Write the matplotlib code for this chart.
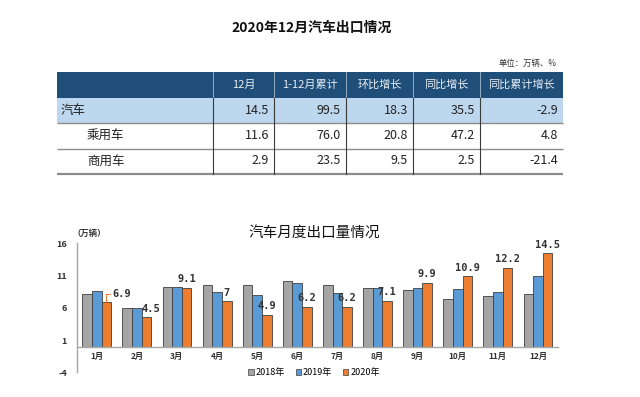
import matplotlib
matplotlib.use('Agg')
import matplotlib.pyplot as plt
from matplotlib.patches import Rectangle, Patch
import numpy as np

plt.rcParams['font.family'] = ['Noto Sans CJK SC', 'DejaVu Sans']

# ---------------- data ----------------
table_title = '2020年12月汽车出口情况'
table_unit = '单位：万辆、%'
table_cols = ['12月', '1-12月累计', '环比增长', '同比增长', '同比累计增长']
table_rows = ['汽车', '乘用车', '商用车']
row_auto = [14.5, 99.5, 18.3, 35.5, -2.9]
row_passenger = [11.6, 76.0, 20.8, 47.2, 4.8]
row_commercial = [2.9, 23.5, 9.5, 2.5, -21.4]

chart_title = '汽车月度出口量情况'
months = ['1月', '2月', '3月', '4月', '5月', '6月', '7月', '8月', '9月', '10月', '11月', '12月']
y2018 = [8.1, 5.9, 9.2, 9.6, 9.5, 10.1, 9.6, 9.0, 8.7, 7.3, 7.9, 8.2]
y2019 = [8.6, 5.9, 9.2, 8.5, 8.0, 9.8, 8.3, 9.0, 9.1, 8.9, 8.5, 10.9]
y2020 = [6.9, 4.5, 9.1, 7.0, 4.9, 6.2, 6.2, 7.1, 9.9, 10.9, 12.2, 14.5]
labels2020 = ['6.9', '4.5', '9.1', '7', '4.9', '6.2', '6.2', '7.1', '9.9', '10.9', '12.2', '14.5']
series_names = ['2018年', '2019年', '2020年']
yticks = [-4, 1, 6, 11, 16]

# ---------------- figure ----------------
W, H = 640, 397
fig = plt.figure(figsize=(W / 100, H / 100), dpi=100)
fig.patch.set_facecolor('white')

# overlay axes in pixel coordinates for the table
ax0 = fig.add_axes([0, 0, 1, 1])
ax0.set_xlim(0, W)
ax0.set_ylim(H, 0)
ax0.axis('off')

ax0.text(312, 28, table_title, ha='center', va='center', fontsize=10,
         fontweight='bold', color='#111111')
ax0.text(557, 63, table_unit, ha='right', va='center', fontsize=6, color='#333333')

left, right = 57, 563
seps = [213, 274, 346, 413, 480]
col_edges = seps + [right]
row_edges = [71.5, 97.5, 123, 148.5, 173.5]
navy = '#1F4E79'
light = '#BDD7EE'

ax0.add_patch(Rectangle((left, row_edges[0]), right - left, row_edges[1] - row_edges[0],
                        facecolor=navy, edgecolor='none'))
ax0.add_patch(Rectangle((left, row_edges[1]), right - left, row_edges[2] - row_edges[1],
                        facecolor=light, edgecolor='none'))

# header text
for j, c in enumerate(table_cols):
    cx = (col_edges[j] + col_edges[j + 1]) / 2
    ax0.text(cx, (row_edges[0] + row_edges[1]) / 2, c, ha='center', va='center',
             fontsize=8, color='#E8EEF5')

rows_vals = [row_auto, row_passenger, row_commercial]
for i, (name, vals) in enumerate(zip(table_rows, rows_vals)):
    cy = (row_edges[i + 1] + row_edges[i + 2]) / 2
    lx = 61 if i == 0 else 87
    ax0.text(lx, cy, name, ha='left', va='center', fontsize=9, color='#222222')
    for j, v in enumerate(vals):
        ax0.text(col_edges[j + 1] - 5, cy, f'{v:.1f}', ha='right', va='center',
                 fontsize=9, color='#222222')

# lines
for k, yv in enumerate(row_edges[2:]):
    ax0.plot([left, right], [yv, yv], color='#8C8C8C', lw=1.6 if k == 2 else 1.0,
             solid_capstyle='butt')
for s in seps:
    ax0.plot([s, s], [row_edges[0], row_edges[1]], color='#A9BCD0', lw=0.6)
    ax0.plot([s, s], [row_edges[1], row_edges[-1]], color='#3A3A3A', lw=0.8)

# ---------------- chart ----------------
ax = fig.add_axes([76.7 / W, 1 - 372.3 / H, (558 - 76.7) / W, (372.3 - 243.3) / H])
ax.set_facecolor('none')
for s in ['top', 'right']:
    ax.spines[s].set_visible(False)
ax.spines['bottom'].set_position(('data', 0))
ax.spines['left'].set_color('#A6A6A6')
ax.spines['left'].set_linewidth(1.0)
ax.spines['bottom'].set_color('#A6A6A6')
ax.spines['bottom'].set_linewidth(1.0)

x = np.arange(len(months))
w = 0.24
colors = ['#A5A5A5', '#5B9BD5', '#ED7D31']
for k, (vals, col) in enumerate(zip([y2018, y2019, y2020], colors)):
    ax.bar(x + (k - 1) * w, vals, width=w, color=col, edgecolor='#3F3F3F', linewidth=0.6,
           zorder=2)

ax.set_xlim(-0.5, len(months) - 0.5)
ax.set_ylim(-4, 16)
ax.set_yticks(yticks)
ax.set_yticklabels([str(t) for t in yticks])
ax.set_xticks(x)
ax.set_xticklabels(months)
ax.tick_params(axis='y', length=0, pad=7, labelsize=6.5, labelcolor='#333333')
ax.tick_params(axis='x', length=0, pad=4, labelsize=6, labelcolor='#333333')
for t in ax.get_xticklabels() + ax.get_yticklabels():
    t.set_fontweight('bold')

for i, (v, lab) in enumerate(zip(y2020, labels2020)):
    if i == 0:
        ax.annotate(lab, xy=(x[i] + w, v), xytext=(4.5, 6), textcoords='offset points',
                    ha='left', va='center', fontsize=7.5, fontweight='bold',
                    family='DejaVu Sans Mono', color='#333333',
                    arrowprops=dict(arrowstyle='-', color='#ED7D31', lw=0.8,
                                    connectionstyle='angle,angleA=0,angleB=90,rad=0',
                                    shrinkA=0, shrinkB=0))
    else:
        dx = 3.5 if i == 1 else 0
        ax.annotate(lab, xy=(x[i] + w, v), xytext=(dx, 2.5), textcoords='offset points',
                    ha='center', va='bottom', fontsize=7.5, fontweight='bold',
                    family='DejaVu Sans Mono', color='#333333')

fig.text(314 / W, 1 - 233 / H, chart_title, ha='center', va='center', fontsize=10.5,
         color='#111111')
fig.text(72 / W, 1 - 233 / H, '（万辆）', ha='left', va='center', fontsize=6,
         fontweight='bold', color='#333333')

handles = [Patch(facecolor=c, edgecolor='#3F3F3F', linewidth=0.5) for c in colors]
fig.legend(handles, series_names, loc='center', bbox_to_anchor=(314 / W, 1 - 372.7 / H),
           ncol=3, frameon=False, fontsize=6.5, handlelength=0.6, handleheight=0.6,
           handletextpad=0.2, columnspacing=1.2, borderpad=0)

fig.savefig('out.png', dpi=100, facecolor='white')
